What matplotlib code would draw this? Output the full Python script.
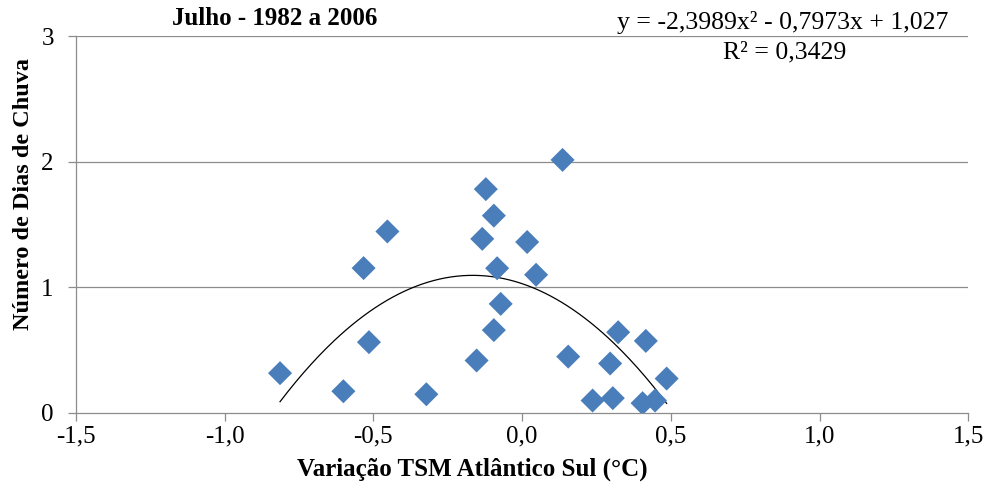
import numpy as np
import matplotlib.pyplot as plt

# Variação TSM Atlântico Sul (°C) x Número de dias de chuva, julho 1982-2006
tsm = [-0.814, -0.601, -0.515, -0.533, -0.453, -0.322, -0.153, -0.134, -0.122,
       -0.095, -0.095, -0.084, -0.072, 0.017, 0.047, 0.136, 0.155, 0.237,
       0.305, 0.296, 0.323, 0.405, 0.416, 0.447, 0.486]
dias = [0.314, 0.170, 0.561, 1.151, 1.443, 0.146, 0.415, 1.384, 1.780,
        1.569, 0.657, 1.150, 0.866, 1.359, 1.098, 2.013, 0.446, 0.096,
        0.115, 0.391, 0.640, 0.075, 0.571, 0.096, 0.271]

# tendência polinomial (Excel): y = a x^2 + b x + c
coef = [-2.3989, -0.7973, 1.027]
r2 = 0.3429

x_ticks = [-1.5, -1.0, -0.5, 0.0, 0.5, 1.0, 1.5]
x_tick_labels = ["-1,5", "-1,0", "-0,5", "0,0", "0,5", "1,0", "1,5"]
y_ticks = [0, 1, 2, 3]

plt.rcParams['font.family'] = ['Liberation Serif', 'DejaVu Serif']

fig = plt.figure(figsize=(9.91, 4.90), dpi=100)
ax = fig.add_axes([0.0767, 0.158, 0.9003, 0.7685])

grid_col = '#8c8c8c'
for y in y_ticks[1:]:
    ax.axhline(y, color=grid_col, lw=0.9, zorder=0)

ax.scatter(tsm, dias, marker='D', s=150, color='#4a7ebb', edgecolors='none', zorder=3)

xs = np.linspace(min(tsm), max(tsm), 200)
ax.plot(xs, np.polyval(coef, xs), color='black', lw=0.9, zorder=2)

ax.set_xlim(-1.5, 1.5)
ax.set_ylim(0, 3)
ax.set_xticks(x_ticks)
ax.set_xticklabels(x_tick_labels)
ax.set_yticks(y_ticks)

for s in ['top', 'right']:
    ax.spines[s].set_visible(False)
for s in ['left', 'bottom']:
    ax.spines[s].set_color(grid_col)
    ax.spines[s].set_linewidth(0.9)
ax.tick_params(axis='both', colors=grid_col, labelcolor='black', labelsize=18,
               length=6, width=0.9)
ax.tick_params(axis='x', pad=3)
ax.tick_params(axis='y', pad=10)

ax.set_xlabel("Variação TSM Atlântico Sul (°C)", fontsize=18, fontweight='bold')
ax.xaxis.set_label_coords(0.444, -0.12)
ax.set_ylabel("Número de Dias de Chuva", fontsize=17.5, fontweight='bold')
ax.yaxis.set_label_coords(-0.047, 0.58)

fig.text(0.277, 0.963, "Julho - 1982 a 2006", fontsize=18, fontweight='bold',
         ha='center', va='center')
eq = "y = -2,3989x² - 0,7973x + 1,027"
fig.text(0.790, 0.955, eq, fontsize=18.5, ha='center', va='center')
fig.text(0.792, 0.892, "R² = " + f"{r2:.4f}".replace('.', ','), fontsize=18.5,
         ha='center', va='center')

fig.savefig("out.png", dpi=100)
